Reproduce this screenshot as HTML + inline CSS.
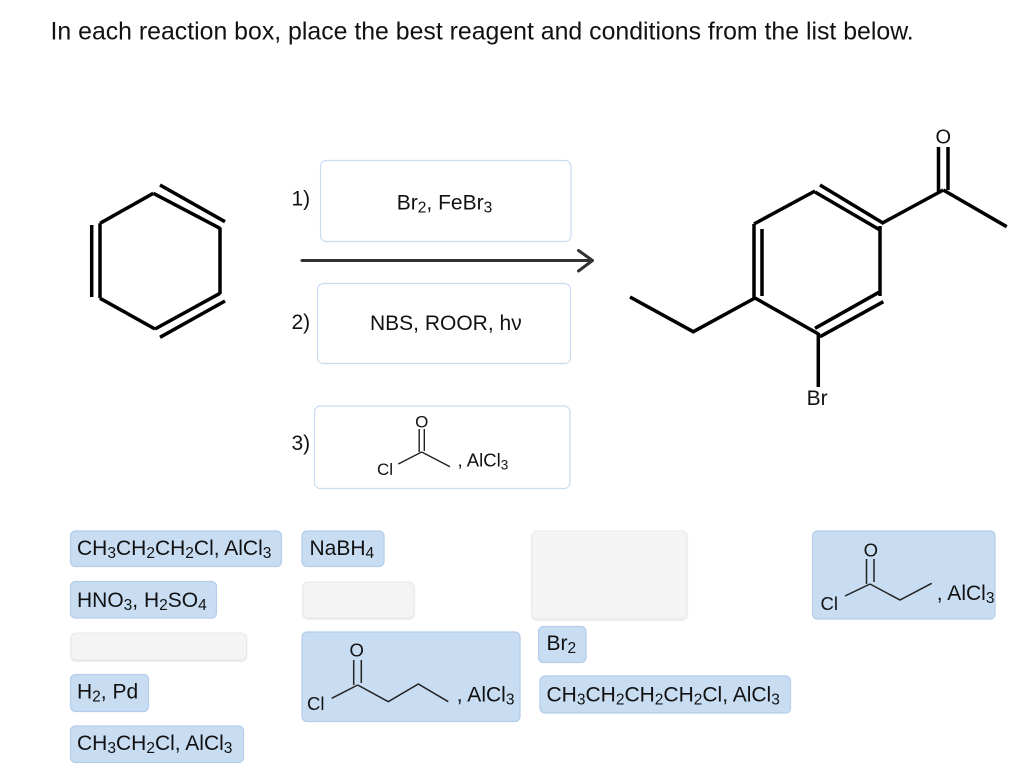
<!DOCTYPE html>
<html>
<head>
<meta charset="utf-8">
<style>
  html, body { margin: 0; padding: 0; background: #ffffff; }
  body { width: 1024px; height: 780px; overflow: hidden; }
  svg { display: block; }
  text { font-family: "Liberation Sans", Arial, sans-serif; fill: #111; }
</style>
</head>
<body>
<svg width="1024" height="780" viewBox="0 0 1024 780" xmlns="http://www.w3.org/2000/svg">
  <defs>
    <filter id="sh" x="-10%" y="-10%" width="120%" height="130%">
      <feDropShadow dx="0" dy="1" stdDeviation="0.8" flood-color="#000" flood-opacity="0.12"/>
    </filter>
  </defs>

  <!-- Title -->
  <text x="50.5" y="39.3" font-size="24.85">In each reaction box, place the best reagent and conditions from the list below.</text>

  <!-- Benzene -->
  <g stroke="#000" stroke-width="3.5" fill="none" stroke-linecap="butt">
    <line x1="153.3" y1="193.3" x2="100" y2="223.3"/>
    <line x1="100" y1="223.3" x2="100" y2="298.3"/>
    <line x1="91.7" y1="225" x2="91.7" y2="297"/>
    <line x1="100" y1="298.3" x2="155" y2="329"/>
    <line x1="155" y1="329" x2="220" y2="293.3"/>
    <line x1="160" y1="337.3" x2="225" y2="301"/>
    <line x1="220" y1="294" x2="220" y2="227.5"/>
    <line x1="220" y1="228.3" x2="153.3" y2="193.3"/>
    <line x1="225" y1="221.7" x2="160" y2="185"/>
  </g>

  <!-- Reaction boxes -->
  <g fill="#ffffff" stroke="#c9dcf2" stroke-width="1.2">
    <rect x="320.5" y="160.5" width="250.5" height="81" rx="6"/>
    <rect x="317.5" y="283.5" width="253" height="80" rx="6"/>
    <rect x="314.5" y="406" width="255.5" height="82.5" rx="6"/>
  </g>

  <text x="291.5" y="205.5" font-size="21">1)</text>
  <text x="291.5" y="329" font-size="21">2)</text>
  <text x="291.5" y="450" font-size="21">3)</text>

  <text x="396.8" y="209.3" font-size="21">Br<tspan font-size="15.5" dy="3">2</tspan><tspan dy="-3">, FeBr</tspan><tspan font-size="15.5" dy="3">3</tspan></text>
  <text x="370" y="330" font-size="21">NBS, ROOR, hν</text>

  <!-- Box 3 structure -->
  <g stroke="#222" stroke-width="1.4" fill="none">
    <line x1="398.3" y1="464" x2="421.7" y2="452"/>
    <line x1="421.7" y1="452" x2="450" y2="466.7"/>
    <line x1="419.2" y1="429" x2="419.2" y2="452"/>
    <line x1="424.3" y1="429" x2="424.3" y2="451"/>
  </g>
  <text x="421.7" y="427.3" font-size="17" text-anchor="middle">O</text>
  <text x="377" y="475" font-size="17">Cl</text>
  <text x="457.5" y="466.7" font-size="18.5">, AlCl<tspan font-size="13.5" dy="3">3</tspan></text>

  <!-- Arrow -->
  <g stroke="#333" stroke-width="3" fill="none" stroke-linecap="round" stroke-linejoin="round">
    <line x1="302" y1="260.5" x2="592" y2="260.5"/>
    <polyline points="578.5,250.5 592.5,260.5 578.5,271"/>
  </g>

  <!-- Product -->
  <g stroke="#000" stroke-width="3.5" fill="none">
    <polyline points="630,297 693.3,331.7 755,298"/>
    <line x1="754" y1="224" x2="754" y2="299"/>
    <line x1="762" y1="229" x2="762" y2="296"/>
    <line x1="754" y1="224" x2="815" y2="191"/>
    <line x1="815" y1="192" x2="880" y2="230"/>
    <line x1="820" y1="185" x2="883.3" y2="223.3"/>
    <line x1="880" y1="226" x2="880" y2="296"/>
    <line x1="880" y1="291.7" x2="815" y2="328.3"/>
    <line x1="883.3" y1="301.7" x2="820" y2="336.7"/>
    <line x1="755" y1="298" x2="818.5" y2="334"/>
    <line x1="818.3" y1="333" x2="818.3" y2="387"/>
    <line x1="881.5" y1="223.5" x2="943.3" y2="190"/>
    <line x1="943.3" y1="190" x2="1006.7" y2="226.7"/>
    <line x1="938.5" y1="147" x2="938.5" y2="192"/>
    <line x1="948" y1="147" x2="948" y2="190"/>
  </g>
  <text x="943.3" y="143.3" font-size="20" text-anchor="middle">O</text>
  <text x="806.6" y="405" font-size="21">Br</text>

  <!-- Gray empty slots -->
  <g fill="#f4f4f4" stroke="#e9e9e9" stroke-width="1" filter="url(#sh)">
    <rect x="303" y="582" width="111" height="36" rx="5"/>
    <rect x="71" y="633" width="175.5" height="27" rx="5"/>
    <rect x="532" y="531" width="155" height="88" rx="5"/>
  </g>

  <!-- Blue reagent tiles -->
  <g fill="#c8dcf2" stroke="#b3cdea" stroke-width="1.2">
    <rect x="70.5" y="531" width="211" height="35.5" rx="5"/>
    <rect x="302" y="531" width="82" height="35.5" rx="5"/>
    <rect x="70.5" y="581.5" width="146" height="36.5" rx="5"/>
    <rect x="302" y="632" width="218" height="89.5" rx="5"/>
    <rect x="70.5" y="674.5" width="78" height="37" rx="5"/>
    <rect x="70.5" y="726" width="173" height="36.5" rx="5"/>
    <rect x="812.5" y="531" width="182.5" height="88" rx="5"/>
    <rect x="538.5" y="626.5" width="47.5" height="36" rx="5"/>
    <rect x="540" y="676" width="250.5" height="37" rx="5"/>
  </g>

  <text x="77" y="555" font-size="21">CH<tspan font-size="15.5" dy="3">3</tspan><tspan dy="-3">CH</tspan><tspan font-size="15.5" dy="3">2</tspan><tspan dy="-3">CH</tspan><tspan font-size="15.5" dy="3">2</tspan><tspan dy="-3">Cl, AlCl</tspan><tspan font-size="15.5" dy="3">3</tspan></text>
  <text x="309.5" y="555" font-size="21">NaBH<tspan font-size="15.5" dy="3">4</tspan></text>
  <text x="77" y="607" font-size="21">HNO<tspan font-size="15.5" dy="3">3</tspan><tspan dy="-3">, H</tspan><tspan font-size="15.5" dy="3">2</tspan><tspan dy="-3">SO</tspan><tspan font-size="15.5" dy="3">4</tspan></text>
  <text x="77" y="698.5" font-size="21">H<tspan font-size="15.5" dy="3">2</tspan><tspan dy="-3">, Pd</tspan></text>
  <text x="77" y="750" font-size="21">CH<tspan font-size="15.5" dy="3">3</tspan><tspan dy="-3">CH</tspan><tspan font-size="15.5" dy="3">2</tspan><tspan dy="-3">Cl, AlCl</tspan><tspan font-size="15.5" dy="3">3</tspan></text>
  <text x="546.5" y="650" font-size="21">Br<tspan font-size="15.5" dy="3">2</tspan></text>
  <text x="546.5" y="701.7" font-size="21">CH<tspan font-size="15.5" dy="3">3</tspan><tspan dy="-3">CH</tspan><tspan font-size="15.5" dy="3">2</tspan><tspan dy="-3">CH</tspan><tspan font-size="15.5" dy="3">2</tspan><tspan dy="-3">CH</tspan><tspan font-size="15.5" dy="3">2</tspan><tspan dy="-3">Cl, AlCl</tspan><tspan font-size="15.5" dy="3">3</tspan></text>

  <!-- Butanoyl chloride tile -->
  <g stroke="#222" stroke-width="1.5" fill="none">
    <line x1="331.7" y1="698.3" x2="357.7" y2="685"/>
    <polyline points="357.7,685 388.3,701.7 418.3,684 448.3,701.7"/>
    <line x1="353.7" y1="660" x2="353.7" y2="685"/>
    <line x1="361.3" y1="660" x2="361.3" y2="683"/>
  </g>
  <text x="356.7" y="656.7" font-size="18.5" text-anchor="middle">O</text>
  <text x="307" y="710" font-size="18.5">Cl</text>
  <text x="456.8" y="701.7" font-size="21">, AlCl<tspan font-size="15.5" dy="3">3</tspan></text>

  <!-- Propanoyl chloride tile -->
  <g stroke="#222" stroke-width="1.5" fill="none">
    <line x1="845" y1="596" x2="870" y2="584"/>
    <polyline points="870,584 900,600 931.7,583.3"/>
    <line x1="866.5" y1="559" x2="866.5" y2="584"/>
    <line x1="874" y1="559" x2="874" y2="582"/>
  </g>
  <text x="870.8" y="556.7" font-size="18.5" text-anchor="middle">O</text>
  <text x="820.5" y="610" font-size="18.5">Cl</text>
  <text x="936.8" y="600" font-size="21">, AlCl<tspan font-size="15.5" dy="3">3</tspan></text>
</svg>
</body>
</html>
